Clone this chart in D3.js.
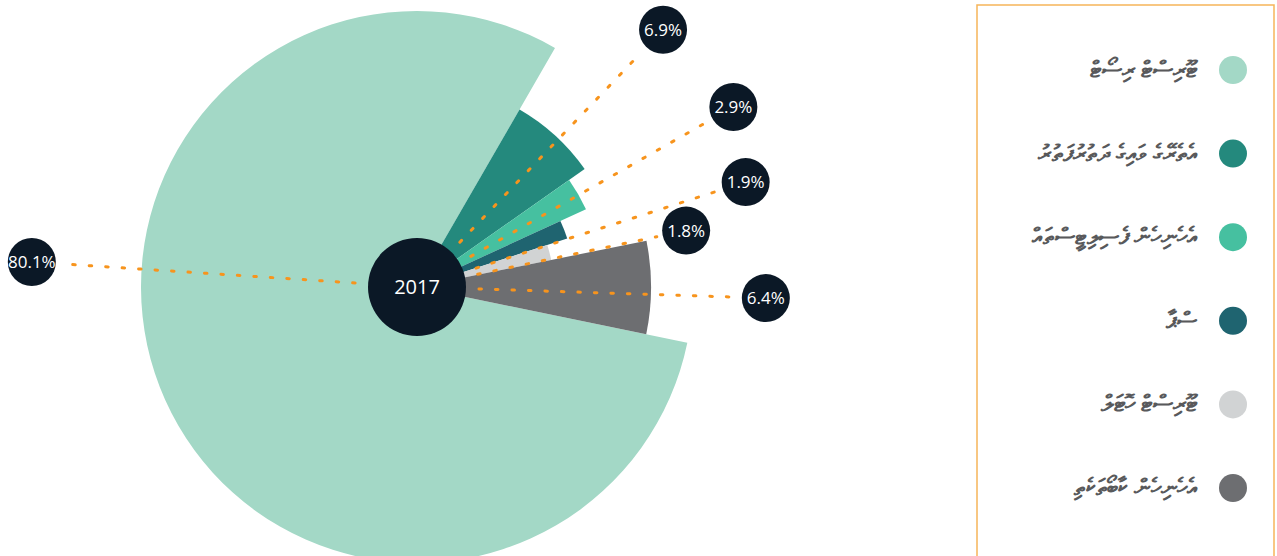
<!DOCTYPE html>
<html>
<head>
<meta charset="utf-8">
<script src="https://cdn.jsdelivr.net/npm/d3@7"></script>
<style>
  body { margin: 0; background: #fff; }
  svg { display: block; }
  .val { font-family: "Open Sans", sans-serif; font-size: 17px; fill: #fff; }
  .legend text { font-family: "Noto Sans", "DejaVu Sans", sans-serif; font-size: 23px; font-weight: bold; fill: #58595b; }
</style>
</head>
<body>
<svg id="chart" width="1277" height="556"></svg>
<script>
// chart data
var categories = [
  "ޓޫރިސްޓް ރިސޯޓް",
  "އެތެރޭގެ ވައިގެ ދަތުރުފަތުރު",
  "އެހެނިހެން ފެސިލިޓީސްތައް",
  "ސްޕާ",
  "ޓޫރިސްޓް ހޮޓަލް",
  "އެހެނިހެން ކާބޯތަކެތި"
];
var shares = [80.1, 6.9, 2.9, 1.9, 1.8, 6.4];
// relative length of each wedge (largest = 100)
var lengths = [100, 74.3, 67.4, 57.2, 49.6, 84.8];
var yearLabel = "2017";

var colors = ["#a3d8c6", "#24897d", "#46c0a0", "#1f6470", "#d1d3d4", "#6d6e71"];

///////////////////////////////////////////////////////////////////////////////

var svg = d3.select("#chart");
var cx = 417, cy = 287;
var rad = Math.PI / 180;

var rScale = d3.scaleLinear().domain([0, 100]).range([0, 276]);

// second wedge starts at 30deg, clockwise
var start = (30 - shares[0] * 3.6) * rad;
var pie = d3.pie().sort(null).value(function (d) { return d; })
  .startAngle(start).endAngle(start + 2 * Math.PI);

var arcs = pie(shares);

var arc = d3.arc()
  .innerRadius(0)
  .outerRadius(function (d) { return rScale(lengths[d.index]); });

var g = svg.append("g").attr("transform", "translate(" + cx + "," + cy + ")");

g.selectAll("path.slice")
  .data(arcs)
  .enter().append("path")
  .attr("class", "slice")
  .attr("d", arc)
  .style("fill", function (d) { return colors[d.index]; });

// where the callouts sit: angle nudge (deg) and distance (px)
var callout = [
  {nudge: 27.9, dist: 386},
  {nudge: 1.3, dist: 356},
  {nudge: 0.3, dist: 364},
  {nudge: 3.6, dist: 345},
  {nudge: 2.8, dist: 275},
  {nudge: 1.7, dist: 349}
];

var polar = function (a, r) {
  return [Math.sin(a) * r, -Math.cos(a) * r];
};

var labelAngle = function (d) {
  return (d.startAngle + d.endAngle) / 2 + callout[d.index].nudge * rad;
};

g.selectAll("line.lead")
  .data(arcs)
  .enter().append("line")
  .attr("class", "lead")
  .attr("x1", function (d) { return polar(labelAngle(d), 62)[0]; })
  .attr("y1", function (d) { return polar(labelAngle(d), 62)[1]; })
  .attr("x2", function (d) { return polar(labelAngle(d), callout[d.index].dist - 30)[0]; })
  .attr("y2", function (d) { return polar(labelAngle(d), callout[d.index].dist - 30)[1]; })
  .style("stroke", "#f7941d")
  .style("stroke-width", 3)
  .style("stroke-linecap", "round")
  .style("stroke-dasharray", "2.5 14");

g.append("circle")
  .attr("r", 49)
  .style("fill", "#0b1826");

g.append("text")
  .attr("class", "val")
  .attr("text-anchor", "middle")
  .attr("dy", "0.35em")
  .style("font-size", "20px")
  .text(yearLabel);

var tag = g.selectAll("g.tag")
  .data(arcs)
  .enter().append("g")
  .attr("class", "tag")
  .attr("transform", function (d) {
    return "translate(" + polar(labelAngle(d), callout[d.index].dist) + ")";
  });

tag.append("circle")
  .attr("r", 24)
  .style("fill", "#0b1826");

tag.append("text")
  .attr("class", "val")
  .attr("text-anchor", "middle")
  .attr("dy", "0.36em")
  .text(function (d) { return d.data.toFixed(1) + "%"; });

///////////////////////////////////////////////////////////////////////////////

svg.append("rect")
  .attr("x", 977).attr("y", 5)
  .attr("width", 297).attr("height", 560)
  .style("fill", "none")
  .style("stroke", "#f6b55a")
  .style("stroke-width", 1.5);

var ly = d3.scalePoint().domain(d3.range(categories.length)).range([70, 488]);

var legend = svg.append("g").attr("class", "legend")
  .selectAll("g")
  .data(categories)
  .enter().append("g")
  .attr("transform", function (d, i) { return "translate(1233," + ly(i) + ")"; });

legend.append("circle")
  .attr("r", 14)
  .style("fill", function (d, i) { return colors[i]; });

legend.append("text")
  .attr("x", -36)
  .attr("dy", "0.3em")
  .attr("text-anchor", "start")
  .attr("direction", "rtl")
  .text(function (d) { return d; });
</script>
</body>
</html>
